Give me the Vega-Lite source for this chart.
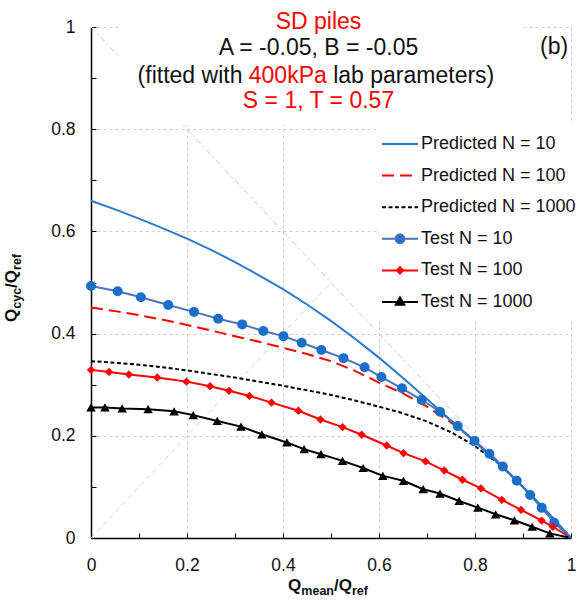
{
  "$schema": "https://vega.github.io/schema/vega-lite/v6.json",
  "width": 480,
  "height": 511,
  "autosize": {"type": "none"},
  "padding": {"left": 91, "top": 27, "right": 13, "bottom": 68},
  "background": "white",
  "config": {
    "view": {"stroke": null},
    "font": "Liberation Sans",
    "legend": {
      "orient": "none",
      "legendX": 288,
      "legendY": 96,
      "padding": 10,
      "fillColor": "white",
      "labelFont": "Liberation Sans",
      "labelFontSize": 18,
      "labelColor": "#111111",
      "labelOffset": 10,
      "symbolSize": 400,
      "symbolStrokeWidth": 2,
      "symbolOpacity": 1,
      "rowPadding": 11.6,
      "titlePadding": 0
    }
  },
  "datasets": {
    "pred10": [
      {"x": 0, "y": 0.66}, {"x": 0.05, "y": 0.643}, {"x": 0.1, "y": 0.625}, {"x": 0.15, "y": 0.606},
      {"x": 0.2, "y": 0.586}, {"x": 0.25, "y": 0.564}, {"x": 0.3, "y": 0.54}, {"x": 0.35, "y": 0.514},
      {"x": 0.4, "y": 0.487}, {"x": 0.45, "y": 0.457}, {"x": 0.5, "y": 0.425}, {"x": 0.55, "y": 0.39},
      {"x": 0.6, "y": 0.353}, {"x": 0.65, "y": 0.313}, {"x": 0.7, "y": 0.272}, {"x": 0.75, "y": 0.23},
      {"x": 0.8, "y": 0.188}, {"x": 0.85, "y": 0.145}, {"x": 0.9, "y": 0.1}, {"x": 0.95, "y": 0.052},
      {"x": 1, "y": 0}
    ],
    "pred100": [
      {"x": 0, "y": 0.451}, {"x": 0.05, "y": 0.444}, {"x": 0.1, "y": 0.436}, {"x": 0.15, "y": 0.427},
      {"x": 0.2, "y": 0.417}, {"x": 0.25, "y": 0.406}, {"x": 0.3, "y": 0.395}, {"x": 0.35, "y": 0.384},
      {"x": 0.4, "y": 0.372}, {"x": 0.45, "y": 0.36}, {"x": 0.5, "y": 0.346}, {"x": 0.55, "y": 0.327},
      {"x": 0.6, "y": 0.304}, {"x": 0.65, "y": 0.283}, {"x": 0.7, "y": 0.257}, {"x": 0.75, "y": 0.226},
      {"x": 0.8, "y": 0.19}, {"x": 0.85, "y": 0.147}, {"x": 0.9, "y": 0.1}, {"x": 0.95, "y": 0.051},
      {"x": 1, "y": 0}
    ],
    "pred1000": [
      {"x": 0, "y": 0.346}, {"x": 0.05, "y": 0.343}, {"x": 0.1, "y": 0.339}, {"x": 0.15, "y": 0.334},
      {"x": 0.2, "y": 0.328}, {"x": 0.25, "y": 0.321}, {"x": 0.3, "y": 0.314}, {"x": 0.35, "y": 0.306},
      {"x": 0.4, "y": 0.298}, {"x": 0.45, "y": 0.289}, {"x": 0.5, "y": 0.28}, {"x": 0.55, "y": 0.269},
      {"x": 0.6, "y": 0.257}, {"x": 0.65, "y": 0.244}, {"x": 0.7, "y": 0.228}, {"x": 0.75, "y": 0.207},
      {"x": 0.8, "y": 0.18}, {"x": 0.85, "y": 0.145}, {"x": 0.9, "y": 0.1}, {"x": 0.95, "y": 0.051},
      {"x": 1, "y": 0}
    ],
    "test": [
      {"series": "Test N = 10", "x": 0, "y": 0.493}, {"series": "Test N = 10", "x": 0.0556, "y": 0.483},
      {"series": "Test N = 10", "x": 0.104, "y": 0.471}, {"series": "Test N = 10", "x": 0.161, "y": 0.456},
      {"series": "Test N = 10", "x": 0.2146, "y": 0.4425}, {"series": "Test N = 10", "x": 0.265, "y": 0.429},
      {"series": "Test N = 10", "x": 0.315, "y": 0.418}, {"series": "Test N = 10", "x": 0.359, "y": 0.405},
      {"series": "Test N = 10", "x": 0.401, "y": 0.395}, {"series": "Test N = 10", "x": 0.439, "y": 0.382},
      {"series": "Test N = 10", "x": 0.48, "y": 0.368}, {"series": "Test N = 10", "x": 0.526, "y": 0.352},
      {"series": "Test N = 10", "x": 0.57, "y": 0.334}, {"series": "Test N = 10", "x": 0.605, "y": 0.315},
      {"series": "Test N = 10", "x": 0.648, "y": 0.293}, {"series": "Test N = 10", "x": 0.689, "y": 0.27},
      {"series": "Test N = 10", "x": 0.727, "y": 0.247}, {"series": "Test N = 10", "x": 0.764, "y": 0.219},
      {"series": "Test N = 10", "x": 0.799, "y": 0.19}, {"series": "Test N = 10", "x": 0.83, "y": 0.165},
      {"series": "Test N = 10", "x": 0.858, "y": 0.14}, {"series": "Test N = 10", "x": 0.887, "y": 0.112},
      {"series": "Test N = 10", "x": 0.915, "y": 0.084}, {"series": "Test N = 10", "x": 0.939, "y": 0.059},
      {"series": "Test N = 10", "x": 0.965, "y": 0.03}, {"series": "Test N = 10", "x": 1, "y": 0},
      {"series": "Test N = 100", "x": 0, "y": 0.329}, {"series": "Test N = 100", "x": 0.0375, "y": 0.325},
      {"series": "Test N = 100", "x": 0.079, "y": 0.32}, {"series": "Test N = 100", "x": 0.138, "y": 0.314},
      {"series": "Test N = 100", "x": 0.199, "y": 0.306}, {"series": "Test N = 100", "x": 0.248, "y": 0.297},
      {"series": "Test N = 100", "x": 0.2875, "y": 0.288}, {"series": "Test N = 100", "x": 0.33, "y": 0.278},
      {"series": "Test N = 100", "x": 0.376, "y": 0.265}, {"series": "Test N = 100", "x": 0.432, "y": 0.249},
      {"series": "Test N = 100", "x": 0.478, "y": 0.232}, {"series": "Test N = 100", "x": 0.524, "y": 0.217},
      {"series": "Test N = 100", "x": 0.564, "y": 0.202}, {"series": "Test N = 100", "x": 0.616, "y": 0.181},
      {"series": "Test N = 100", "x": 0.651, "y": 0.166}, {"series": "Test N = 100", "x": 0.697, "y": 0.15},
      {"series": "Test N = 100", "x": 0.736, "y": 0.132}, {"series": "Test N = 100", "x": 0.774, "y": 0.114},
      {"series": "Test N = 100", "x": 0.8125, "y": 0.097}, {"series": "Test N = 100", "x": 0.856, "y": 0.0745},
      {"series": "Test N = 100", "x": 0.896, "y": 0.055}, {"series": "Test N = 100", "x": 0.939, "y": 0.034},
      {"series": "Test N = 100", "x": 0.962, "y": 0.022}, {"series": "Test N = 100", "x": 1, "y": 0},
      {"series": "Test N = 1000", "x": 0, "y": 0.2555}, {"series": "Test N = 1000", "x": 0.029, "y": 0.2555},
      {"series": "Test N = 1000", "x": 0.065, "y": 0.2535}, {"series": "Test N = 1000", "x": 0.119, "y": 0.252},
      {"series": "Test N = 1000", "x": 0.173, "y": 0.248}, {"series": "Test N = 1000", "x": 0.213, "y": 0.2405},
      {"series": "Test N = 1000", "x": 0.263, "y": 0.229}, {"series": "Test N = 1000", "x": 0.3125, "y": 0.218},
      {"series": "Test N = 1000", "x": 0.356, "y": 0.203}, {"series": "Test N = 1000", "x": 0.408, "y": 0.187},
      {"series": "Test N = 1000", "x": 0.444, "y": 0.174}, {"series": "Test N = 1000", "x": 0.479, "y": 0.164},
      {"series": "Test N = 1000", "x": 0.524, "y": 0.151}, {"series": "Test N = 1000", "x": 0.567, "y": 0.137},
      {"series": "Test N = 1000", "x": 0.608, "y": 0.1216}, {"series": "Test N = 1000", "x": 0.651, "y": 0.112},
      {"series": "Test N = 1000", "x": 0.692, "y": 0.0955}, {"series": "Test N = 1000", "x": 0.727, "y": 0.087},
      {"series": "Test N = 1000", "x": 0.767, "y": 0.0725}, {"series": "Test N = 1000", "x": 0.806, "y": 0.0595},
      {"series": "Test N = 1000", "x": 0.843, "y": 0.0464}, {"series": "Test N = 1000", "x": 0.882, "y": 0.0347},
      {"series": "Test N = 1000", "x": 0.919, "y": 0.022}, {"series": "Test N = 1000", "x": 0.956, "y": 0.009},
      {"series": "Test N = 1000", "x": 1, "y": 0}
    ],
    "legendItems": [
      {"series": "Predicted N = 10"}, {"series": "Predicted N = 100"}, {"series": "Predicted N = 1000"},
      {"series": "Test N = 10"}, {"series": "Test N = 100"}, {"series": "Test N = 1000"}
    ]
  },
  "layer": [
    {
      "data": {"values": [{"x": 0, "y": 1}, {"x": 1, "y": 0}]},
      "mark": {"type": "line", "color": "#c8c8c8", "strokeWidth": 1, "strokeDash": [6, 3, 2, 3]},
      "encoding": {
        "x": {
          "field": "x", "type": "quantitative",
          "scale": {"domain": [0, 1], "nice": false, "zero": false},
          "axis": {
            "title": null,
            "values": [0, 0.05, 0.1, 0.15, 0.2, 0.25, 0.3, 0.35, 0.4, 0.45, 0.5, 0.55, 0.6, 0.65, 0.7, 0.75, 0.8, 0.85, 0.9, 0.95, 1],
            "labelExpr": "round(datum.value*20)%4==0 ? format(datum.value,'~g') : ''",
            "labelFont": "Liberation Sans", "labelFontSize": 17.5, "labelColor": "#111111",
            "labelFlush": false, "labelOverlap": false, "labelBound": false,
            "labelPadding": 23,
            "tickSize": -5, "tickColor": "#000000", "tickWidth": 1,
            "domainColor": "#000000", "domainWidth": 1.5,
            "grid": true, "gridColor": "#cfcfcf", "gridDash": [3, 3], "gridWidth": 1,
            "gridOpacity": {"condition": {"test": "round(datum.value*20)%4==0", "value": 1}, "value": 0}
          }
        },
        "y": {
          "field": "y", "type": "quantitative",
          "scale": {"domain": [0, 1], "nice": false, "zero": false},
          "axis": {
            "title": null,
            "values": [0, 0.05, 0.1, 0.15, 0.2, 0.25, 0.3, 0.35, 0.4, 0.45, 0.5, 0.55, 0.6, 0.65, 0.7, 0.75, 0.8, 0.85, 0.9, 0.95, 1],
            "labelExpr": "round(datum.value*20)%4==0 ? format(datum.value,'~g') : ''",
            "labelFont": "Liberation Sans", "labelFontSize": 17.5, "labelColor": "#111111",
            "labelFlush": false, "labelOverlap": false, "labelBound": false,
            "labelPadding": 21,
            "tickSize": -5, "tickColor": "#000000", "tickWidth": 1,
            "domainColor": "#000000", "domainWidth": 1.5,
            "grid": true, "gridColor": "#cfcfcf", "gridDash": [3, 3], "gridWidth": 1,
            "gridOpacity": {"condition": {"test": "round(datum.value*20)%4==0", "value": 1}, "value": 0}
          }
        }
      }
    },
    {
      "data": {"values": [{"x": 0, "y": 0}, {"x": 0.5, "y": 0.5}]},
      "mark": {"type": "line", "color": "#d4d4d4", "strokeWidth": 1, "strokeDash": [5, 4]},
      "encoding": {
        "x": {"field": "x", "type": "quantitative"},
        "y": {"field": "y", "type": "quantitative"}
      }
    },
    {
      "data": {"values": [{"x": 0.058, "x2": 0.9, "y": 0.808, "y2": 1.01}]},
      "mark": {"type": "rect", "color": "white"},
      "encoding": {
        "x": {"field": "x", "type": "quantitative"},
        "x2": {"field": "x2"},
        "y": {"field": "y", "type": "quantitative"},
        "y2": {"field": "y2"}
      }
    },
    {
      "data": {"name": "pred1000"},
      "mark": {"type": "line", "color": "#000000", "strokeWidth": 2, "strokeDash": [4, 2.5]},
      "encoding": {
        "x": {"field": "x", "type": "quantitative"},
        "y": {"field": "y", "type": "quantitative"}
      }
    },
    {
      "data": {"name": "pred100"},
      "mark": {"type": "line", "color": "#ff0000", "strokeWidth": 2, "strokeDash": [12, 6]},
      "encoding": {
        "x": {"field": "x", "type": "quantitative"},
        "y": {"field": "y", "type": "quantitative"}
      }
    },
    {
      "data": {"name": "test"},
      "mark": {"type": "line", "strokeWidth": 2},
      "encoding": {
        "x": {"field": "x", "type": "quantitative"},
        "y": {"field": "y", "type": "quantitative"},
        "color": {
          "field": "series", "type": "nominal", "legend": null,
          "scale": {"domain": ["Test N = 10", "Test N = 100", "Test N = 1000"], "range": ["#4a74bd", "#ff0000", "#000000"]}
        }
      }
    },
    {
      "data": {"name": "pred10"},
      "mark": {"type": "line", "color": "#2a7bcb", "strokeWidth": 2},
      "encoding": {
        "x": {"field": "x", "type": "quantitative"},
        "y": {"field": "y", "type": "quantitative"}
      }
    },
    {
      "data": {"name": "test"},
      "transform": [{"filter": "datum.series == 'Test N = 10' && datum.x < 1"}],
      "mark": {"type": "point", "shape": "circle", "filled": true, "size": 100, "color": "#1c6fc8", "opacity": 1},
      "encoding": {
        "x": {"field": "x", "type": "quantitative"},
        "y": {"field": "y", "type": "quantitative"}
      }
    },
    {
      "data": {"name": "test"},
      "transform": [{"filter": "datum.series == 'Test N = 100' && datum.x < 1"}],
      "mark": {"type": "point", "shape": "diamond", "filled": true, "size": 70, "color": "#ff0000", "opacity": 1},
      "encoding": {
        "x": {"field": "x", "type": "quantitative"},
        "y": {"field": "y", "type": "quantitative"}
      }
    },
    {
      "data": {"name": "test"},
      "transform": [{"filter": "datum.series == 'Test N = 1000' && datum.x < 1"}],
      "mark": {"type": "point", "shape": "triangle-up", "filled": true, "size": 90, "color": "#000000", "opacity": 1},
      "encoding": {
        "x": {"field": "x", "type": "quantitative"},
        "y": {"field": "y", "type": "quantitative"}
      }
    },
    {
      "data": {"name": "legendItems"},
      "mark": {"type": "point", "filled": true},
      "encoding": {
        "x": {"field": "nx", "type": "quantitative"},
        "y": {"field": "ny", "type": "quantitative"},
        "fill": {
          "field": "series", "type": "nominal",
          "scale": {
            "domain": ["Predicted N = 10", "Predicted N = 100", "Predicted N = 1000", "Test N = 10", "Test N = 100", "Test N = 1000"],
            "range": ["#2a7bcb", "#ff0000", "#000000", "#1c6fc8", "#ff0000", "#000000"]
          },
          "legend": {"title": null, "orient": "none", "legendX": 288, "legendY": 96}
        },
        "stroke": {
          "field": "series", "type": "nominal",
          "scale": {
            "domain": ["Predicted N = 10", "Predicted N = 100", "Predicted N = 1000", "Test N = 10", "Test N = 100", "Test N = 1000"],
            "range": ["#2a7bcb", "#ff0000", "#000000", "#4a74bd", "#ff0000", "#000000"]
          },
          "legend": {"title": null, "orient": "none", "legendX": 288, "legendY": 96}
        },
        "shape": {
          "field": "series", "type": "nominal",
          "scale": {
            "domain": ["Predicted N = 10", "Predicted N = 100", "Predicted N = 1000", "Test N = 10", "Test N = 100", "Test N = 1000"],
            "range": [
              "M-1.8,0L1.8,0",
              "M-1.8,0L1.8,0",
              "M-1.8,0L1.8,0",
              "M-1.8,0L1.8,0M0.45,0L0.39,0.225L0.225,0.39L0,0.45L-0.225,0.39L-0.39,0.225L-0.45,0L-0.39,-0.225L-0.225,-0.39L0,-0.45L0.225,-0.39L0.39,-0.225Z",
              "M-1.8,0L1.8,0M0,-0.32L0.32,0L0,0.32L-0.32,0Z",
              "M-1.8,0L1.8,0M0,-0.45L0.42,0.27L-0.42,0.27Z"
            ]
          },
          "legend": {"title": null, "orient": "none", "legendX": 288, "legendY": 96}
        },
        "strokeDash": {
          "field": "series", "type": "nominal",
          "scale": {
            "domain": ["Predicted N = 10", "Predicted N = 100", "Predicted N = 1000", "Test N = 10", "Test N = 100", "Test N = 1000"],
            "range": [[1, 0], [12, 6], [4, 2.5], [1, 0], [1, 0], [1, 0]]
          },
          "legend": {"title": null, "orient": "none", "legendX": 288, "legendY": 96}
        }
      }
    },
    {
      "data": {"values": [{"t": "SD piles", "x": 0.474, "y": 0.997}, {"t": "S = 1, T = 0.57", "x": 0.474, "y": 0.841}]},
      "mark": {"type": "text", "font": "Liberation Sans", "fontSize": 23, "color": "#ff0000", "align": "center", "baseline": "alphabetic"},
      "encoding": {
        "x": {"field": "x", "type": "quantitative"},
        "y": {"field": "y", "type": "quantitative"},
        "text": {"field": "t"}
      }
    },
    {
      "data": {"values": [{"t": "A = -0.05, B = -0.05", "x": 0.474, "y": 0.945}]},
      "mark": {"type": "text", "font": "Liberation Sans", "fontSize": 23, "color": "#111111", "align": "center", "baseline": "alphabetic"},
      "encoding": {
        "x": {"field": "x", "type": "quantitative"},
        "y": {"field": "y", "type": "quantitative"},
        "text": {"field": "t"}
      }
    },
    {
      "data": {"values": [{"t": "(fitted with", "x": 0.0971, "y": 0.891}, {"t": "lab parameters)", "x": 0.5046, "y": 0.891}]},
      "mark": {"type": "text", "font": "Liberation Sans", "fontSize": 23, "color": "#111111", "align": "left", "baseline": "alphabetic"},
      "encoding": {
        "x": {"field": "x", "type": "quantitative"},
        "y": {"field": "y", "type": "quantitative"},
        "text": {"field": "t"}
      }
    },
    {
      "data": {"values": [{"t": "400kPa", "x": 0.3287, "y": 0.891}]},
      "mark": {"type": "text", "font": "Liberation Sans", "fontSize": 23, "color": "#ff0000", "align": "left", "baseline": "alphabetic"},
      "encoding": {
        "x": {"field": "x", "type": "quantitative"},
        "y": {"field": "y", "type": "quantitative"},
        "text": {"field": "t"}
      }
    },
    {
      "data": {"values": [{"t": "(b)", "x": 0.994, "y": 0.948}]},
      "mark": {"type": "text", "font": "Liberation Sans", "fontSize": 23, "color": "#111111", "align": "right", "baseline": "alphabetic"},
      "encoding": {
        "x": {"field": "x", "type": "quantitative"},
        "y": {"field": "y", "type": "quantitative"},
        "text": {"field": "t"}
      }
    },
    {
      "data": {"values": [{"t": "Q", "x": 0.4106, "y": -0.1037}, {"t": "/", "x": 0.5062, "y": -0.1037}, {"t": "Q", "x": 0.5161, "y": -0.1037}]},
      "mark": {"type": "text", "font": "Liberation Sans", "fontSize": 17, "fontWeight": "bold", "color": "#111111", "align": "left", "baseline": "alphabetic"},
      "encoding": {
        "x": {"field": "x", "type": "quantitative"},
        "y": {"field": "y", "type": "quantitative"},
        "text": {"field": "t"}
      }
    },
    {
      "data": {"values": [{"t": "mean", "x": 0.4382, "y": -0.1115}, {"t": "ref", "x": 0.5436, "y": -0.1115}]},
      "mark": {"type": "text", "font": "Liberation Sans", "fontSize": 12.5, "fontWeight": "bold", "color": "#111111", "align": "left", "baseline": "alphabetic"},
      "encoding": {
        "x": {"field": "x", "type": "quantitative"},
        "y": {"field": "y", "type": "quantitative"},
        "text": {"field": "t"}
      }
    },
    {
      "data": {"values": [{"t": "Q", "x": -0.1542, "y": 0.4227}, {"t": "/", "x": -0.1542, "y": 0.4894}, {"t": "Q", "x": -0.1542, "y": 0.4986}]},
      "mark": {"type": "text", "font": "Liberation Sans", "fontSize": 17, "fontWeight": "bold", "color": "#111111", "align": "left", "baseline": "alphabetic", "angle": 270},
      "encoding": {
        "x": {"field": "x", "type": "quantitative"},
        "y": {"field": "y", "type": "quantitative"},
        "text": {"field": "t"}
      }
    },
    {
      "data": {"values": [{"t": "cyc", "x": -0.1458, "y": 0.4486}, {"t": "ref", "x": -0.1458, "y": 0.5245}]},
      "mark": {"type": "text", "font": "Liberation Sans", "fontSize": 12.5, "fontWeight": "bold", "color": "#111111", "align": "left", "baseline": "alphabetic", "angle": 270},
      "encoding": {
        "x": {"field": "x", "type": "quantitative"},
        "y": {"field": "y", "type": "quantitative"},
        "text": {"field": "t"}
      }
    }
  ]
}
